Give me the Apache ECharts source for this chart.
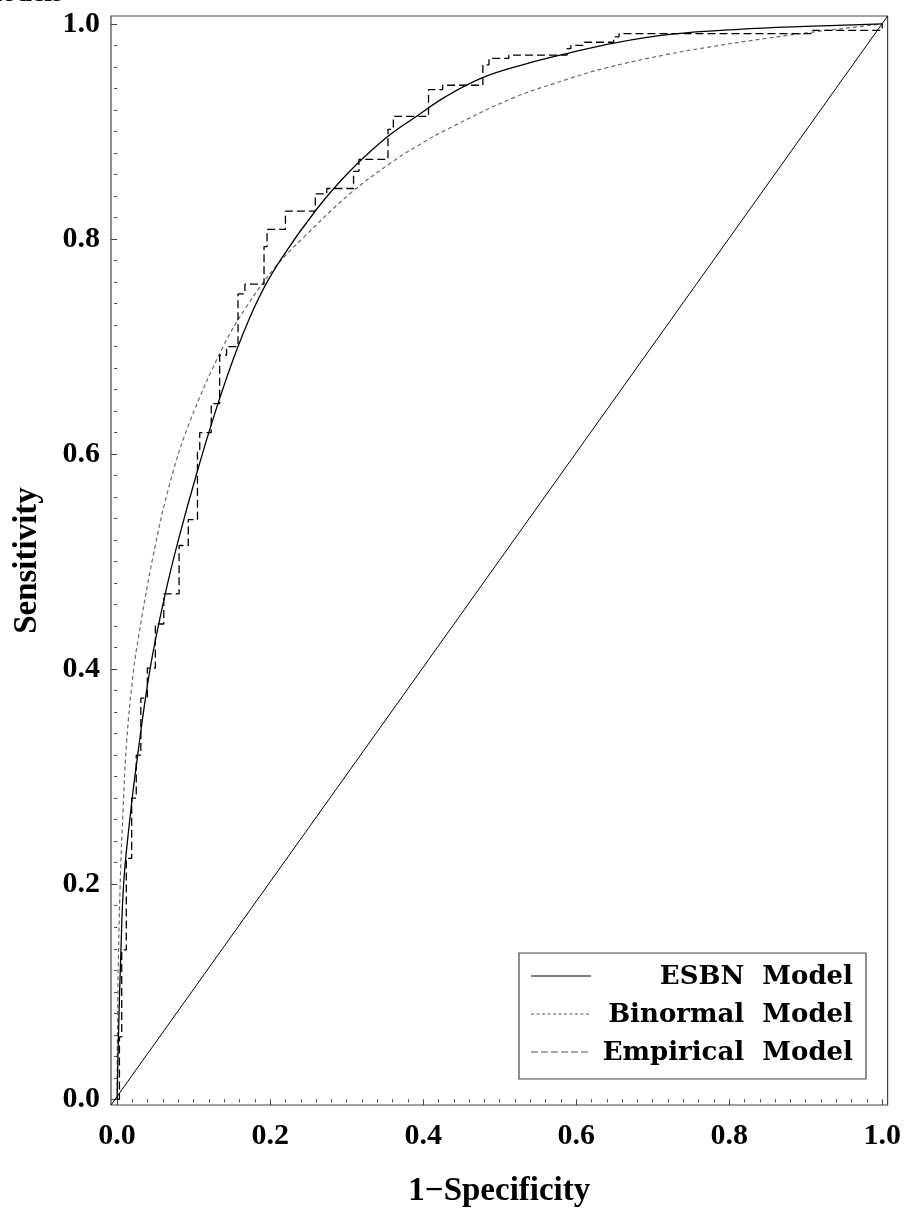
<!DOCTYPE html>
<html>
<head>
<meta charset="utf-8">
<title>ROC Curves</title>
<script src="https://cdn.jsdelivr.net/npm/echarts@6/dist/echarts.min.js"></script>
<style>
  html, body { margin: 0; padding: 0; background: #fff; }
  #chart { width: 904px; height: 1214px; }
</style>
</head>
<body>
<div id="chart"></div>
<script>
// ESBN model ROC curve (1-specificity, sensitivity)
const esbnFpr = [0, 0.0017, 0.005, 0.0085, 0.015, 0.025, 0.043, 0.0626, 0.08, 0.104, 0.13, 0.158, 0.185, 0.214, 0.26, 0.304, 0.354, 0.391, 0.43, 0.4776, 0.53, 0.588, 0.651, 0.725, 0.812, 0.899, 1.0];
const esbnTpr = [0, 0.058, 0.139, 0.200, 0.250, 0.310, 0.400, 0.469, 0.520, 0.582, 0.643, 0.700, 0.745, 0.781, 0.827, 0.863, 0.8955, 0.914, 0.9326, 0.950, 0.962, 0.9725, 0.9825, 0.9905, 0.9950, 0.9977, 1.0];

// Binormal model ROC curve
const binFpr = [0, 0.001, 0.004, 0.008, 0.0126, 0.021, 0.028, 0.047, 0.069, 0.095, 0.1386, 0.169, 0.208, 0.243, 0.304, 0.356, 0.391, 0.434, 0.517, 0.586, 0.638, 0.717, 0.769, 0.847, 0.899, 1.0];
const binTpr = [0, 0.10, 0.20, 0.272, 0.334, 0.396, 0.430, 0.505, 0.573, 0.630, 0.700, 0.737, 0.775, 0.801, 0.842, 0.870, 0.886, 0.903, 0.931, 0.948, 0.959, 0.9714, 0.978, 0.9865, 0.9915, 1.0];

// Empirical ROC staircase: at each fpr the curve rises from tpr to the next tpr
const empFpr = [0, 0.003, 0.006, 0.012, 0.019, 0.025, 0.031, 0.0395, 0.050, 0.061, 0.081, 0.093, 0.105, 0.108, 0.123, 0.134, 0.143, 0.158, 0.167, 0.192, 0.196, 0.220, 0.259, 0.274, 0.309, 0.316, 0.354, 0.361, 0.407, 0.4255, 0.478, 0.486, 0.512, 0.588, 0.593, 0.611, 0.649, 0.656, 0.908, 1.0, 1.0];
const empTpr = [0, 0, 0.058, 0.139, 0.224, 0.280, 0.320, 0.373, 0.401, 0.442, 0.470, 0.515, 0.539, 0.604, 0.620, 0.647, 0.692, 0.700, 0.749, 0.758, 0.793, 0.809, 0.826, 0.842, 0.847, 0.863, 0.874, 0.902, 0.914, 0.939, 0.943, 0.962, 0.968, 0.971, 0.977, 0.980, 0.983, 0.988, 0.991, 0.994, 1.0];

// Axis extents (frame sits slightly outside the unit square) and tick values
const xRange = [-0.008, 1.007];
const yRange = [-0.0053, 1.0074];
const majorTicks = [0, 0.2, 0.4, 0.6, 0.8, 1.0];
const minorTicks = [];
for (let i = 0; i <= 50; i++) { if (i % 10 !== 0) minorTicks.push(+(i * 0.02).toFixed(2)); }

// Chance line from frame corner to frame corner
const diagFpr = [xRange[0], xRange[1]];
const diagTpr = [yRange[0], yRange[1]];

const legendNames = ['ESBN  Model', 'Binormal  Model', 'Empirical  Model'];

const zip = (xs, ys) => xs.map((x, i) => [x, ys[i]]);

const TICK_FONT = '"Liberation Serif", "Times New Roman", serif';
const LEG_FONT = '"DejaVu Serif", serif';
const frameColor = '#444';

const chart = echarts.init(document.getElementById('chart'), null, { renderer: 'canvas' });

const axisBase = (minmax) => ({
  type: 'value',
  min: minmax[0],
  max: minmax[1],
  splitLine: { show: false },
  axisLine: { show: false },
});

const tickLabel = {
  customValues: majorTicks,
  formatter: v => v.toFixed(1),
  fontFamily: TICK_FONT, fontWeight: 'bold', fontSize: 30, color: '#000'
};
const titleStyle = { fontFamily: TICK_FONT, fontWeight: 'bold', fontSize: 33, color: '#000' };

const option = {
  animation: false,
  backgroundColor: '#fff',
  grid: {
    left: 111, top: 16, right: 15, bottom: 109,
    show: true, borderColor: frameColor, borderWidth: 1.2, backgroundColor: 'transparent'
  },
  xAxis: [
    Object.assign(axisBase(xRange), {
      position: 'bottom',
      axisTick: { show: true, customValues: majorTicks, length: 6, lineStyle: { color: frameColor, width: 1 } },
      axisLabel: Object.assign({ margin: 16 }, tickLabel),
      name: '1\u2212Specificity',
      nameLocation: 'middle',
      nameGap: 70,
      nameTextStyle: titleStyle
    }),
    Object.assign(axisBase(xRange), {
      position: 'bottom',
      axisTick: { show: true, customValues: minorTicks, length: 3, lineStyle: { color: frameColor, width: 1 } },
      axisLabel: { show: false }
    })
  ],
  yAxis: [
    Object.assign(axisBase(yRange), {
      position: 'left',
      axisTick: { show: true, customValues: majorTicks, length: 6, lineStyle: { color: frameColor, width: 1 } },
      axisLabel: Object.assign({ margin: 11 }, tickLabel),
      name: 'Sensitivity',
      nameLocation: 'middle',
      nameGap: 67,
      nameTextStyle: titleStyle
    }),
    Object.assign(axisBase(yRange), {
      position: 'left',
      axisTick: { show: true, customValues: minorTicks, length: 3, lineStyle: { color: frameColor, width: 1 } },
      axisLabel: { show: false }
    })
  ],
  series: [
    {
      name: 'Chance', type: 'line', data: zip(diagFpr, diagTpr),
      showSymbol: false, silent: true,
      lineStyle: { color: '#000', width: 1 }
    },
    {
      name: legendNames[1], type: 'line', data: zip(binFpr, binTpr),
      showSymbol: false, smooth: 0.4,
      lineStyle: { color: '#6a6a6a', width: 1.2, type: [4, 3] }
    },
    {
      name: legendNames[2], type: 'line', data: zip(empFpr, empTpr),
      showSymbol: false, step: 'start',
      lineStyle: { color: '#000', width: 1.3, type: [8, 4] }
    },
    {
      name: legendNames[0], type: 'line', data: zip(esbnFpr, esbnTpr),
      showSymbol: false, smooth: 0.4,
      lineStyle: { color: '#000', width: 1.3 }
    }
  ],
  graphic: [
    {
      type: 'text', x: 63, y: 8, silent: true,
      style: { text: 'Models', textAlign: 'right', textVerticalAlign: 'bottom', font: 'bold 28px ' + TICK_FONT, fill: '#000' }
    },
    {
      type: 'group', x: 519, y: 953, silent: true,
      children: [
        { type: 'rect', shape: { x: 0, y: 0, width: 347, height: 126 }, style: { fill: '#fff', stroke: frameColor, lineWidth: 1.2 } },
        { type: 'line', shape: { x1: 12, y1: 23, x2: 72, y2: 23 }, style: { stroke: '#000', lineWidth: 1.2 } },
        { type: 'line', shape: { x1: 12, y1: 61, x2: 72, y2: 61 }, style: { stroke: '#555', lineWidth: 1.1, lineDash: [3, 2.5] } },
        { type: 'line', shape: { x1: 12, y1: 99, x2: 72, y2: 99 }, style: { stroke: '#555', lineWidth: 1.1, lineDash: [7, 3] } },
        { type: 'text', x: 334, y: 24, style: { text: legendNames[0], textAlign: 'right', textVerticalAlign: 'middle', font: 'bold 26px ' + LEG_FONT, fill: '#000' } },
        { type: 'text', x: 334, y: 62, style: { text: legendNames[1], textAlign: 'right', textVerticalAlign: 'middle', font: 'bold 26px ' + LEG_FONT, fill: '#000' } },
        { type: 'text', x: 334, y: 100, style: { text: legendNames[2], textAlign: 'right', textVerticalAlign: 'middle', font: 'bold 26px ' + LEG_FONT, fill: '#000' } }
      ]
    }
  ]
};

chart.setOption(option);
</script>
</body>
</html>
